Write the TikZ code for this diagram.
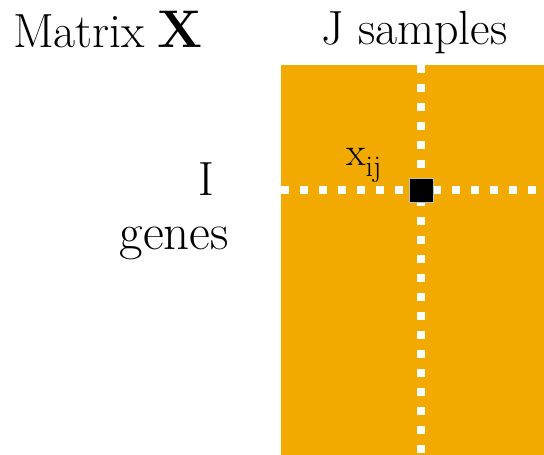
\documentclass[tikz,border=0pt]{standalone}
\definecolor{matorange}{RGB}{242,169,0}
\begin{document}
\begin{tikzpicture}[x=1pt,y=-1pt,
  lbl/.style={inner sep=0pt,outer sep=0pt,font=\fontsize{48}{56}\selectfont},
  dotline/.style={white,line width=8pt,dash pattern=on 7.5pt off 11.5pt},
  cell/.style={fill=black,draw=white!75!black,line width=0.8pt,minimum size=24pt,inner sep=0pt}]
\useasboundingbox (0,0) rectangle (544,455);
\fill[matorange] (281,65) rectangle (544,455);
\coordinate (vtop) at (421,65);
\coordinate (vbot) at (421,455);
\coordinate (hleft) at (281,190);
\coordinate (hright) at (544,190);
\draw[dotline] (vtop) -- (vbot);
\draw[dotline] (hleft) -- (hright);
\node[cell] (xij) at (421,190) {};
\node[lbl,anchor=base west] (title) at (13,47) {Matrix\hspace{-2pt} {\fontsize{53}{58}\selectfont\bfseries X}};
\node[lbl,anchor=base west] (cols) at (321,45) {J samples};
\node[lbl,anchor=base east] (rowsI) at (214,195) {I};
\node[lbl,anchor=base east,font=\fontsize{51}{56}\selectfont] (rowsg) at (229,249) {genes};
\node[inner sep=0pt,anchor=base west,font=\fontsize{40}{44}\selectfont] (xlab) at (346,165) {x\raisebox{-11pt}{\fontsize{30}{34}\selectfont ij}};
\end{tikzpicture}
\end{document}
